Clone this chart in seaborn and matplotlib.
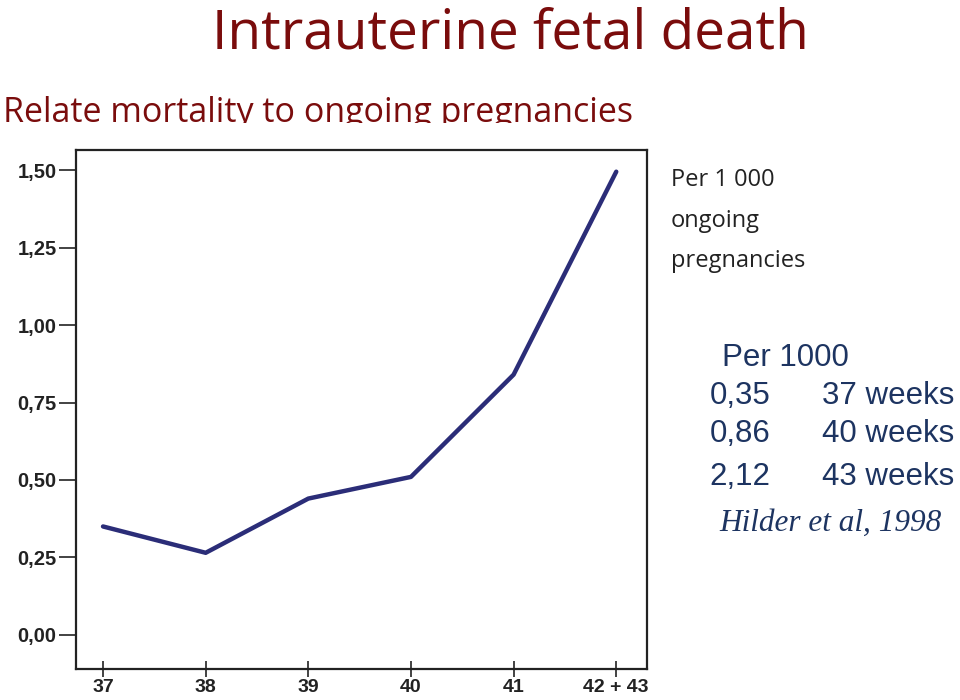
import matplotlib
matplotlib.use("Agg")
import matplotlib.pyplot as plt
from matplotlib.transforms import Bbox
import seaborn as sns
import pandas as pd

# values
weeks = ["37", "38", "39", "40", "41", "42 + 43"]
deaths_per_1000 = [0.35, 0.265, 0.44, 0.51, 0.84, 1.495]
y_ticks = [0.0, 0.25, 0.5, 0.75, 1.0, 1.25, 1.5]
y_tick_labels = ["0,00", "0,25", "0,50", "0,75", "1,00", "1,25", "1,50"]

rates = ["0,35", "0,86", "2,12"]
rate_weeks = ["37 weeks", "40 weeks", "43 weeks"]

df = pd.DataFrame({"week": weeks, "rate": deaths_per_1000})

sns.set_style("white")
plt.rcParams["font.family"] = ["Liberation Sans", "DejaVu Sans"]

dark_red = "#7a0c0c"
navy = "#2b2d78"
text_navy = "#1d3461"

fig = plt.figure(figsize=(9.6, 7), dpi=100)
ax = fig.add_axes([0.0792, 0.0443, 0.5948, 0.7414])

sns.lineplot(data=df, x="week", y="rate", sort=False, color=navy, linewidth=3.2, ax=ax)

ax.set_xlim(-0.263, 5.30)
ax.set_ylim(-0.11, 1.565)
ax.set_yticks(y_ticks)
ax.set_yticklabels(y_tick_labels)
ax.set_xlabel("")
ax.set_ylabel("")

for s in ax.spines.values():
    s.set_visible(True)
    s.set_linewidth(1.6)
    s.set_color("#222222")

ax.tick_params(axis="y", direction="out", length=12, width=1.2, pad=2,
               labelsize=14.5, colors="#222222", left=True)
ax.tick_params(axis="x", direction="inout", length=11, width=1.2, pad=1.5,
               labelsize=14, colors="#222222", bottom=True)
for lab in ax.get_xticklabels() + ax.get_yticklabels():
    lab.set_fontweight("bold")

# headings
fig.text(0.532, 0.931, "Intrauterine fetal death", ha="center", va="baseline",
         fontsize=39.5, color=dark_red, family=["Open Sans", "DejaVu Sans"])
sub = fig.text(0.003, 0.826, "Relate mortality to ongoing pregnancies", ha="left",
               va="baseline", fontsize=24.5, color=dark_red,
               family=["Open Sans", "DejaVu Sans"])
# the subtitle is cut off at the bottom in the reference
sub.set_clip_on(True)
sub.set_clip_box(Bbox([[0, 700 - 123], [960, 700]]))

# note on the right
for i, line in enumerate(["Per 1 000", "ongoing", "pregnancies"]):
    fig.text(0.699, 0.743 - i * 0.058, line, ha="left", va="center",
             fontsize=17, color="#222222", family=["Open Sans", "DejaVu Sans"])

fig.text(0.752, 0.489, "Per 1000", ha="left", va="center", fontsize=22.5, color=text_navy)
row_y = [0.434, 0.380, 0.319]
for ry, r, w in zip(row_y, rates, rate_weeks):
    fig.text(0.739, ry, r, ha="left", va="center", fontsize=22.5, color=text_navy)
    fig.text(0.994, ry, w, ha="right", va="center", fontsize=22.5, color=text_navy)
fig.text(0.749, 0.253, "Hilder et al, 1998", ha="left", va="center", fontsize=22.5,
         color=text_navy, style="italic", family=["Liberation Serif", "DejaVu Serif"])

fig.savefig("out.png", dpi=100)
